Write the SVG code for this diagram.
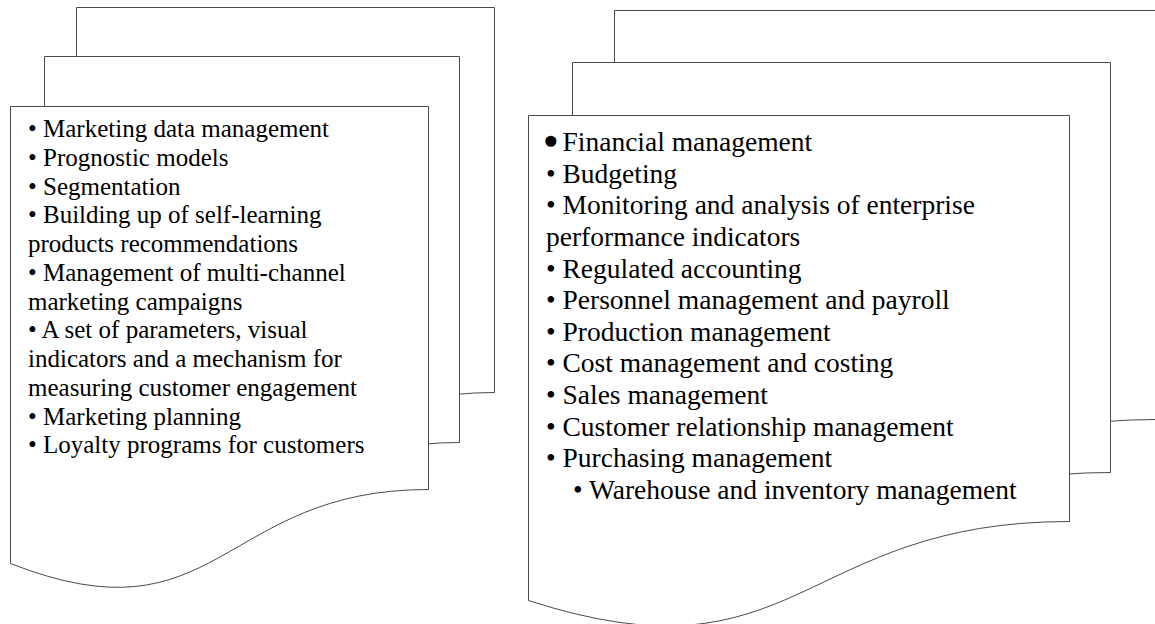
<svg xmlns="http://www.w3.org/2000/svg" width="1155" height="624" viewBox="0 0 1155 624">
  <style>
    .doc { fill: #ffffff; stroke: #4a4a4a; stroke-width: 1; }
    .txt { font-family: "Liberation Serif", "Times New Roman", serif; fill: #000000; }
    .l { font-size: 25px; }
    .r { font-size: 27.5px; }
    .bold-dot { stroke: #000000; stroke-width: 4.5; stroke-linejoin: round; }
  </style>
  <rect width="1155" height="624" fill="#ffffff"/>

  <!-- Marketing stack: three stacked document sheets -->
  <g id="marketing-stack">
    <path id="marketing-sheet-back" class="doc" d="M76.5,7.5 H494.5 V392.5 C285.5,392.5 285.5,548.5 76.5,466.5 Z"/>
    <path id="marketing-sheet-middle" class="doc" d="M44.5,56.5 H459.5 V442.5 C251.5,442.5 251.5,598.5 44.5,516.5 Z"/>
    <path id="marketing-sheet-front" class="doc" d="M10.5,106.5 H428.5 V489.5 C219.5,489.5 219.5,645.5 10.5,563.5 Z"/>
    <g id="marketing-list" class="txt l">
      <text x="28" y="137">• Marketing data management</text>
      <text x="28" y="165.75">• Prognostic models</text>
      <text x="28" y="194.5">• Segmentation</text>
      <text x="28" y="223.25">• Building up of self-learning</text>
      <text x="28" y="252">products recommendations</text>
      <text x="28" y="280.75">• Management of multi-channel</text>
      <text x="28" y="309.5">marketing campaigns</text>
      <text x="28" y="338.25">• A set of parameters, visual</text>
      <text x="28" y="367">indicators and a mechanism for</text>
      <text x="28" y="395.75">measuring customer engagement</text>
      <text x="28" y="424.5">• Marketing planning</text>
      <text x="28" y="453.25">• Loyalty programs for customers</text>
    </g>
  </g>

  <!-- Enterprise management stack: three stacked document sheets -->
  <g id="enterprise-stack">
    <path id="enterprise-sheet-back" class="doc" d="M614.5,10.5 H1156 V419.5 C885,419.5 885,586 614.5,498.5 Z"/>
    <path id="enterprise-sheet-middle" class="doc" d="M572.5,62.5 H1110.5 V472.5 C841.5,472.5 841.5,639 572.5,551.5 Z"/>
    <path id="enterprise-sheet-front" class="doc" d="M528.5,115.5 H1069.5 V521.5 C798.5,521.5 798.5,688 528.5,600.5 Z"/>
    <g id="enterprise-list" class="txt r">
      <text x="546" y="151"><tspan class="bold-dot">•</tspan> Financial management</text>
      <text x="546" y="182.64">• Budgeting</text>
      <text x="546" y="214.28">• Monitoring and analysis of enterprise</text>
      <text x="546" y="245.92">performance indicators</text>
      <text x="546" y="277.56">• Regulated accounting</text>
      <text x="546" y="309.2">• Personnel management and payroll</text>
      <text x="546" y="340.84">• Production management</text>
      <text x="546" y="372.48">• Cost management and costing</text>
      <text x="546" y="404.12">• Sales management</text>
      <text x="546" y="435.76">• Customer relationship management</text>
      <text x="546" y="467.4">• Purchasing management</text>
      <text x="573" y="499.04">• Warehouse and inventory management</text>
    </g>
  </g>
</svg>
